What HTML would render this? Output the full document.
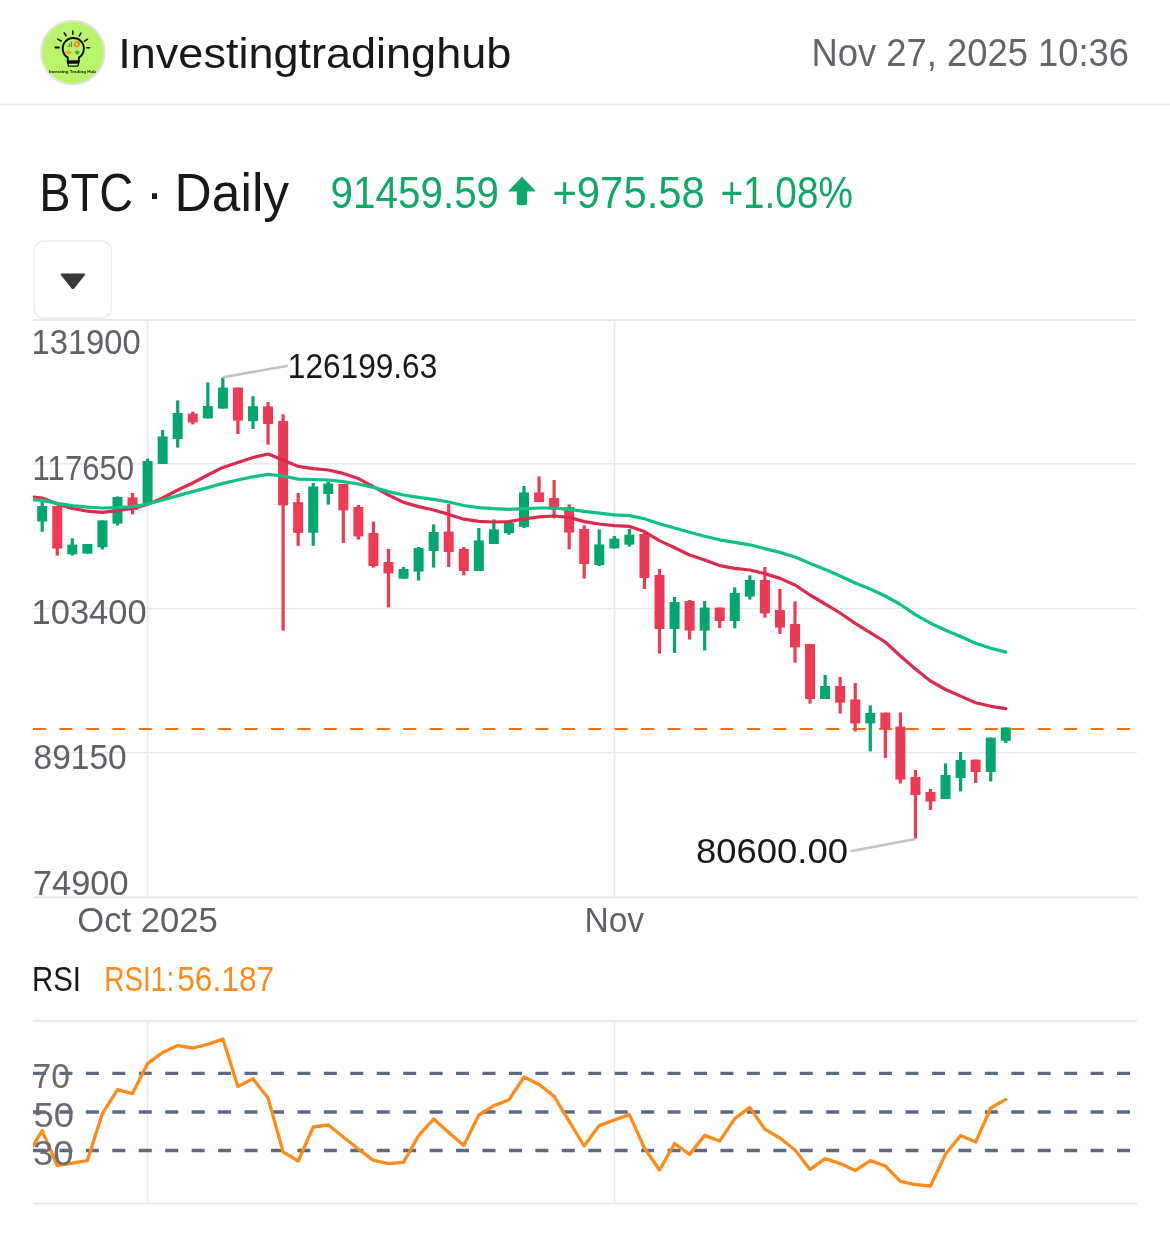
<!DOCTYPE html>
<html lang="en"><head><meta charset="utf-8"><title>BTC Daily - Investingtradinghub</title>
<meta name="viewport" content="width=1170">
<style>
html,body{margin:0;padding:0;background:#fff;}
body{width:1170px;height:1251px;overflow:hidden;position:relative;font-family:"Liberation Sans",sans-serif;}
svg{display:block;position:absolute;left:0;top:0;}
svg text{font-family:"Liberation Sans",sans-serif;}
</style></head><body>
<svg width="1170" height="1251" viewBox="0 0 1170 1251">
<rect x="0" y="0" width="1170" height="1251" fill="#ffffff"/>
<g id="header">
<circle cx="72.8" cy="52.5" r="31.8" fill="#b9f56b" stroke="#e1e3e6" stroke-width="2"/>
<g id="avatar">
<g stroke="#0c0c0c" stroke-width="1.5" stroke-linecap="round" fill="none">
<path d="M72.8 31 V34.3"/>
<path d="M64.2 32.8 L66.1 35.8"/>
<path d="M81 33.1 L79.3 35.9"/>
<path d="M57.6 39.2 L61.3 41"/>
<path d="M87.6 39.2 L84.5 41.2"/>
<path d="M55.6 47.5 H58.8" stroke-width="2.2"/>
<path d="M86.9 47.7 H89.6"/>
<path d="M67.8 60.6 V57.6 A10.6 10.6 0 1 1 78.8 57.6 V60.6" stroke-width="1.9"/>
</g>
<path d="M66.8 60.3 H79.6 V63 H66.8 Z" fill="#0c0c0c"/>
<path d="M67.6 63.2 H78.8 L77.7 66.2 H68.7 Z" fill="#c6f784" stroke="#0c0c0c" stroke-width="1.2" stroke-linejoin="round"/>
<path d="M67.3 47 V45.4 H68.5 V47 Z M69.1 47 V43.6 H70.3 V47 Z M70.9 47 V41.6 H72.1 V47 Z" fill="#4d9a2a"/>
<circle cx="76.9" cy="44.2" r="3.1" fill="#f28a17"/>
<path d="M76.9 42.4 V46" stroke="#fff4dc" stroke-width="1.1"/>
<path d="M64.8 52.2 L68.3 49.9 L72.3 52.2 L68.3 54.8 Z" fill="#f7a21c"/>
<path d="M74.5 52.3 L77 49.9 L79.9 52 L77.6 54.9 Z" fill="#5da136"/>
<text x="48.9" y="72.7" font-size="3.7" font-weight="bold" fill="#0c0c0c" textLength="47" lengthAdjust="spacingAndGlyphs">Investing Trading Hub</text>
</g>
<text x="118.3" y="68.3" font-size="42" fill="#17191c" textLength="393" lengthAdjust="spacingAndGlyphs">Investingtradinghub</text>
<text x="811.5" y="65.6" font-size="38.6" fill="#62656a" textLength="317.5" lengthAdjust="spacingAndGlyphs">Nov 27, 2025 10:36</text>
<rect x="0" y="103.7" width="1170" height="1.5" fill="#ebebed"/>
</g>
<g id="title">
<text y="211.3" font-size="52.8" fill="#17191c"><tspan x="39.2" textLength="94" lengthAdjust="spacingAndGlyphs">BTC</tspan> <tspan x="145.8">·</tspan> <tspan x="174.6" textLength="114.5" lengthAdjust="spacingAndGlyphs">Daily</tspan></text>
<text x="330.6" y="208.2" font-size="44.6" fill="#10a869" textLength="168.5" lengthAdjust="spacingAndGlyphs">91459.59</text>
<path d="M522 176.8 L535.2 190.6 Q535.8 191.6 534.6 191.6 H527.2 V203 Q527.2 205.2 525 205.2 H519 Q516.8 205.2 516.8 203 V191.6 H509.4 Q508.2 191.6 508.8 190.6 Z" fill="#10a869"/>
<text x="552.4" y="208.2" font-size="44.6" fill="#10a869" textLength="152.5" lengthAdjust="spacingAndGlyphs">+975.58</text>
<text x="720.4" y="208.2" font-size="44.6" fill="#10a869" textLength="132.5" lengthAdjust="spacingAndGlyphs">+1.08%</text>
</g>
<g id="dropdown">
<rect x="34" y="241" width="77.5" height="77" rx="10" ry="10" fill="#ffffff" stroke="#eaecee" stroke-width="1.3"/>
<path d="M62.2 273.6 H83.6 Q86 273.6 84.5 275.6 L74.4 288.2 Q72.9 289.9 71.4 288.2 L61.3 275.6 Q59.8 273.6 62.2 273.6 Z" fill="#3a3a3c"/>
</g>
<g id="grid" fill="#e8e9ec">
<rect x="33" y="319.05" width="1104" height="1.9"/>
<rect x="33" y="463.10" width="1104" height="1.4"/>
<rect x="33" y="607.80" width="1104" height="1.4"/>
<rect x="33" y="751.90" width="1104" height="1.4"/>
<rect x="33" y="896.35" width="1104" height="1.9"/>
<rect x="146.75" y="320" width="1.7" height="577.3"/>
<rect x="613.65" y="320" width="1.7" height="577.3"/>
</g>
<g id="ylabels" font-size="34.4" fill="#5e6267">
<text x="31.6" y="354" textLength="109" lengthAdjust="spacingAndGlyphs">131900</text>
<text x="32.6" y="479.9" textLength="101.5" lengthAdjust="spacingAndGlyphs">117650</text>
<text x="31.6" y="624" textLength="115" lengthAdjust="spacingAndGlyphs">103400</text>
<text x="33.6" y="769" textLength="93" lengthAdjust="spacingAndGlyphs">89150</text>
<text x="33" y="895" textLength="95.5" lengthAdjust="spacingAndGlyphs">74900</text>
</g>
<g id="xlabels" font-size="34.4" fill="#5e6267">
<text x="77.3" y="931.7" textLength="140.5" lengthAdjust="spacingAndGlyphs">Oct 2025</text>
<text x="584.4" y="931.8" textLength="59.8" lengthAdjust="spacingAndGlyphs">Nov</text>
</g>
<line x1="33" y1="729" x2="1137" y2="729" stroke="#ff6f00" stroke-width="2" stroke-dasharray="13 13.44"/>
<g id="candles">
<rect x="40.60" y="501.0" width="3.2" height="30.8" fill="#03a66d"/>
<rect x="37.20" y="506.0" width="10" height="15.5" fill="#03a66d"/>
<rect x="55.66" y="506.0" width="3.2" height="49.6" fill="#ef3a56"/>
<rect x="52.26" y="506.0" width="10" height="42.6" fill="#ef3a56"/>
<rect x="70.71" y="538.3" width="3.2" height="17.3" fill="#03a66d"/>
<rect x="67.31" y="544.6" width="10" height="9.6" fill="#03a66d"/>
<rect x="85.77" y="544.0" width="3.2" height="9.6" fill="#03a66d"/>
<rect x="82.37" y="544.0" width="10" height="9.6" fill="#03a66d"/>
<rect x="100.82" y="520.4" width="3.2" height="29.0" fill="#03a66d"/>
<rect x="97.42" y="520.4" width="10" height="26.8" fill="#03a66d"/>
<rect x="115.88" y="496.4" width="3.2" height="29.2" fill="#03a66d"/>
<rect x="112.48" y="497.0" width="10" height="26.6" fill="#03a66d"/>
<rect x="130.94" y="493.0" width="3.2" height="21.4" fill="#ef3a56"/>
<rect x="127.54" y="497.4" width="10" height="12.6" fill="#ef3a56"/>
<rect x="145.99" y="458.6" width="3.2" height="45.0" fill="#03a66d"/>
<rect x="142.59" y="461.0" width="10" height="42.6" fill="#03a66d"/>
<rect x="161.05" y="430.0" width="3.2" height="34.0" fill="#03a66d"/>
<rect x="157.65" y="436.4" width="10" height="27.6" fill="#03a66d"/>
<rect x="176.10" y="400.4" width="3.2" height="47.2" fill="#03a66d"/>
<rect x="172.70" y="413.0" width="10" height="26.0" fill="#03a66d"/>
<rect x="191.16" y="411.6" width="3.2" height="12.8" fill="#ef3a56"/>
<rect x="187.76" y="413.6" width="10" height="8.8" fill="#ef3a56"/>
<rect x="206.22" y="382.4" width="3.2" height="36.0" fill="#03a66d"/>
<rect x="202.82" y="406.0" width="10" height="12.4" fill="#03a66d"/>
<rect x="221.27" y="377.6" width="3.2" height="31.0" fill="#03a66d"/>
<rect x="217.87" y="387.6" width="10" height="21.0" fill="#03a66d"/>
<rect x="236.33" y="387.6" width="3.2" height="46.4" fill="#ef3a56"/>
<rect x="232.93" y="387.6" width="10" height="33.0" fill="#ef3a56"/>
<rect x="251.38" y="396.2" width="3.2" height="32.8" fill="#03a66d"/>
<rect x="247.98" y="406.2" width="10" height="15.0" fill="#03a66d"/>
<rect x="266.44" y="402.0" width="3.2" height="42.6" fill="#ef3a56"/>
<rect x="263.04" y="406.4" width="10" height="17.6" fill="#ef3a56"/>
<rect x="281.50" y="414.4" width="3.2" height="216.2" fill="#ef3a56"/>
<rect x="278.10" y="421.0" width="10" height="84.4" fill="#ef3a56"/>
<rect x="296.55" y="493.0" width="3.2" height="52.8" fill="#ef3a56"/>
<rect x="293.15" y="502.2" width="10" height="30.7" fill="#ef3a56"/>
<rect x="311.61" y="483.0" width="3.2" height="62.8" fill="#03a66d"/>
<rect x="308.21" y="486.5" width="10" height="46.3" fill="#03a66d"/>
<rect x="326.66" y="481.6" width="3.2" height="23.0" fill="#03a66d"/>
<rect x="323.26" y="483.6" width="10" height="10.4" fill="#03a66d"/>
<rect x="341.72" y="484.0" width="3.2" height="59.0" fill="#ef3a56"/>
<rect x="338.32" y="484.0" width="10" height="26.4" fill="#ef3a56"/>
<rect x="356.78" y="505.0" width="3.2" height="34.6" fill="#ef3a56"/>
<rect x="353.38" y="507.0" width="10" height="29.4" fill="#ef3a56"/>
<rect x="371.83" y="521.6" width="3.2" height="46.0" fill="#ef3a56"/>
<rect x="368.43" y="533.0" width="10" height="33.0" fill="#ef3a56"/>
<rect x="386.89" y="549.0" width="3.2" height="58.4" fill="#ef3a56"/>
<rect x="383.49" y="562.0" width="10" height="11.4" fill="#ef3a56"/>
<rect x="401.94" y="567.0" width="3.2" height="11.6" fill="#03a66d"/>
<rect x="398.54" y="569.0" width="10" height="9.6" fill="#03a66d"/>
<rect x="417.00" y="547.0" width="3.2" height="33.6" fill="#03a66d"/>
<rect x="413.60" y="548.0" width="10" height="23.6" fill="#03a66d"/>
<rect x="432.06" y="524.4" width="3.2" height="43.2" fill="#03a66d"/>
<rect x="428.66" y="532.0" width="10" height="19.0" fill="#03a66d"/>
<rect x="447.11" y="504.0" width="3.2" height="63.0" fill="#ef3a56"/>
<rect x="443.71" y="531.6" width="10" height="20.4" fill="#ef3a56"/>
<rect x="462.17" y="547.0" width="3.2" height="28.4" fill="#ef3a56"/>
<rect x="458.77" y="548.8" width="10" height="22.2" fill="#ef3a56"/>
<rect x="477.22" y="528.0" width="3.2" height="43.0" fill="#03a66d"/>
<rect x="473.82" y="540.4" width="10" height="30.6" fill="#03a66d"/>
<rect x="492.28" y="519.4" width="3.2" height="24.6" fill="#03a66d"/>
<rect x="488.88" y="529.4" width="10" height="14.6" fill="#03a66d"/>
<rect x="507.34" y="521.0" width="3.2" height="13.8" fill="#03a66d"/>
<rect x="503.94" y="522.5" width="10" height="10.7" fill="#03a66d"/>
<rect x="522.39" y="486.0" width="3.2" height="42.0" fill="#03a66d"/>
<rect x="518.99" y="492.4" width="10" height="34.6" fill="#03a66d"/>
<rect x="537.45" y="476.4" width="3.2" height="25.6" fill="#ef3a56"/>
<rect x="534.05" y="492.4" width="10" height="9.6" fill="#ef3a56"/>
<rect x="552.50" y="480.0" width="3.2" height="38.4" fill="#ef3a56"/>
<rect x="549.10" y="498.0" width="10" height="11.6" fill="#ef3a56"/>
<rect x="567.56" y="504.4" width="3.2" height="45.0" fill="#ef3a56"/>
<rect x="564.16" y="507.0" width="10" height="25.6" fill="#ef3a56"/>
<rect x="582.62" y="525.4" width="3.2" height="53.2" fill="#ef3a56"/>
<rect x="579.22" y="529.0" width="10" height="35.0" fill="#ef3a56"/>
<rect x="597.67" y="529.4" width="3.2" height="36.6" fill="#03a66d"/>
<rect x="594.27" y="544.4" width="10" height="20.6" fill="#03a66d"/>
<rect x="612.73" y="536.0" width="3.2" height="12.4" fill="#03a66d"/>
<rect x="609.33" y="538.6" width="10" height="9.8" fill="#03a66d"/>
<rect x="627.78" y="529.0" width="3.2" height="17.6" fill="#03a66d"/>
<rect x="624.38" y="534.6" width="10" height="10.0" fill="#03a66d"/>
<rect x="642.84" y="532.0" width="3.2" height="57.0" fill="#ef3a56"/>
<rect x="639.44" y="534.0" width="10" height="44.0" fill="#ef3a56"/>
<rect x="657.90" y="569.0" width="3.2" height="84.6" fill="#ef3a56"/>
<rect x="654.50" y="575.0" width="10" height="54.0" fill="#ef3a56"/>
<rect x="672.95" y="597.0" width="3.2" height="56.0" fill="#03a66d"/>
<rect x="669.55" y="602.0" width="10" height="27.0" fill="#03a66d"/>
<rect x="688.01" y="600.0" width="3.2" height="39.6" fill="#ef3a56"/>
<rect x="684.61" y="601.0" width="10" height="29.6" fill="#ef3a56"/>
<rect x="703.06" y="601.0" width="3.2" height="49.4" fill="#03a66d"/>
<rect x="699.66" y="607.6" width="10" height="23.0" fill="#03a66d"/>
<rect x="718.12" y="607.6" width="3.2" height="20.4" fill="#ef3a56"/>
<rect x="714.72" y="607.6" width="10" height="13.4" fill="#ef3a56"/>
<rect x="733.18" y="587.4" width="3.2" height="41.0" fill="#03a66d"/>
<rect x="729.78" y="593.0" width="10" height="28.0" fill="#03a66d"/>
<rect x="748.23" y="575.4" width="3.2" height="24.2" fill="#03a66d"/>
<rect x="744.83" y="580.0" width="10" height="16.6" fill="#03a66d"/>
<rect x="763.29" y="567.0" width="3.2" height="50.6" fill="#ef3a56"/>
<rect x="759.89" y="580.0" width="10" height="33.4" fill="#ef3a56"/>
<rect x="778.34" y="589.0" width="3.2" height="45.0" fill="#ef3a56"/>
<rect x="774.94" y="610.0" width="10" height="17.6" fill="#ef3a56"/>
<rect x="793.40" y="601.4" width="3.2" height="61.2" fill="#ef3a56"/>
<rect x="790.00" y="624.0" width="10" height="23.4" fill="#ef3a56"/>
<rect x="808.46" y="644.0" width="3.2" height="59.6" fill="#ef3a56"/>
<rect x="805.06" y="644.0" width="10" height="55.0" fill="#ef3a56"/>
<rect x="823.51" y="675.0" width="3.2" height="24.0" fill="#03a66d"/>
<rect x="820.11" y="686.0" width="10" height="13.0" fill="#03a66d"/>
<rect x="838.57" y="677.0" width="3.2" height="36.6" fill="#ef3a56"/>
<rect x="835.17" y="686.0" width="10" height="16.6" fill="#ef3a56"/>
<rect x="853.62" y="683.0" width="3.2" height="48.4" fill="#ef3a56"/>
<rect x="850.22" y="699.4" width="10" height="24.0" fill="#ef3a56"/>
<rect x="868.68" y="705.4" width="3.2" height="46.0" fill="#03a66d"/>
<rect x="865.28" y="713.0" width="10" height="10.4" fill="#03a66d"/>
<rect x="883.74" y="712.6" width="3.2" height="45.4" fill="#ef3a56"/>
<rect x="880.34" y="712.6" width="10" height="16.4" fill="#ef3a56"/>
<rect x="898.79" y="712.4" width="3.2" height="71.0" fill="#ef3a56"/>
<rect x="895.39" y="726.6" width="10" height="53.0" fill="#ef3a56"/>
<rect x="913.85" y="770.0" width="3.2" height="68.6" fill="#ef3a56"/>
<rect x="910.45" y="777.0" width="10" height="18.0" fill="#ef3a56"/>
<rect x="928.90" y="789.0" width="3.2" height="21.0" fill="#ef3a56"/>
<rect x="925.50" y="792.0" width="10" height="9.6" fill="#ef3a56"/>
<rect x="943.96" y="763.4" width="3.2" height="35.6" fill="#03a66d"/>
<rect x="940.56" y="775.0" width="10" height="24.0" fill="#03a66d"/>
<rect x="959.02" y="752.0" width="3.2" height="39.4" fill="#03a66d"/>
<rect x="955.62" y="760.0" width="10" height="18.0" fill="#03a66d"/>
<rect x="974.07" y="759.6" width="3.2" height="23.4" fill="#ef3a56"/>
<rect x="970.67" y="759.6" width="10" height="12.4" fill="#ef3a56"/>
<rect x="989.13" y="737.6" width="3.2" height="43.8" fill="#03a66d"/>
<rect x="985.73" y="737.6" width="10" height="34.4" fill="#03a66d"/>
<rect x="1004.18" y="727.5" width="3.2" height="15.5" fill="#03a66d"/>
<rect x="1000.78" y="727.5" width="10" height="13.3" fill="#03a66d"/>
</g>
<defs><clipPath id="clipMain"><rect x="33" y="319" width="1104" height="579"/></clipPath><clipPath id="clipRsi"><rect x="33" y="1020" width="1104" height="184"/></clipPath></defs>
<g id="ma" clip-path="url(#clipMain)">
<polyline fill="none" stroke="#de2b4d" stroke-width="3.2" stroke-linejoin="round" stroke-linecap="round" points="27.0,496.6 33.0,497.0 42.2,498.0 57.4,504.0 72.2,508.4 87.4,511.2 102.4,512.4 117.4,510.6 132.6,508.4 147.6,504.4 162.6,498.0 177.8,490.0 192.6,483.0 207.8,475.0 222.8,467.4 237.8,462.4 253.0,457.5 268.0,454.0 283.0,460.0 298.0,466.4 313.2,468.6 328.2,470.0 343.2,473.4 358.4,478.6 373.4,486.6 388.4,495.0 403.6,502.4 418.6,506.6 433.6,510.0 448.8,514.4 463.8,519.2 478.8,521.4 493.8,522.0 508.8,521.6 524.0,519.0 539.0,516.8 554.2,516.0 569.2,517.4 584.2,521.6 599.2,524.0 614.2,525.6 629.4,526.4 644.4,531.6 659.4,540.6 674.6,547.8 689.6,555.0 704.6,560.0 719.6,565.6 734.8,568.4 749.8,570.0 764.8,573.6 780.0,578.4 795.0,585.0 810.0,595.0 825.2,604.0 840.2,613.0 855.2,623.4 870.2,632.6 885.2,642.0 900.4,656.0 915.4,669.0 930.4,681.0 945.6,689.5 960.6,696.1 975.6,702.7 990.8,706.3 1005.8,708.6"/>
<polyline fill="none" stroke="#0fc185" stroke-width="3.2" stroke-linejoin="round" stroke-linecap="round" points="27.0,499.8 33.0,500.0 42.2,500.4 57.4,503.4 72.2,505.6 87.4,507.2 102.4,508.0 117.4,507.6 132.6,506.6 147.6,504.0 162.6,500.0 177.8,495.6 192.6,491.6 207.8,487.6 222.8,483.4 237.8,480.0 253.0,476.8 268.0,474.4 283.0,476.0 298.0,479.1 313.2,479.5 328.2,480.0 343.2,481.6 358.4,484.0 373.4,487.4 388.4,491.6 403.6,495.0 418.6,497.4 433.6,499.4 448.8,502.0 463.8,505.5 478.8,507.6 493.8,508.6 508.8,509.4 524.0,508.6 539.0,508.0 554.2,508.0 569.2,509.4 584.2,511.4 599.2,513.2 614.2,514.8 629.4,515.6 644.4,518.8 659.4,523.8 674.6,528.0 689.6,532.2 704.6,536.2 719.6,539.8 734.8,542.4 749.8,544.8 764.8,548.6 780.0,552.4 795.0,557.0 810.0,563.4 825.2,569.4 840.2,576.0 855.2,583.0 870.2,589.0 885.2,596.0 900.4,604.5 915.4,614.6 930.4,623.2 945.6,630.3 960.6,636.6 975.6,643.2 990.8,648.2 1005.8,652.1"/>
</g>
<g id="annot">
<line x1="222.8" y1="377.2" x2="288" y2="365.8" stroke="#c0c4c6" stroke-width="2.6"/>
<text x="287.8" y="378.2" font-size="34.4" fill="#17191c" textLength="149.5" lengthAdjust="spacingAndGlyphs">126199.63</text>
<line x1="915.4" y1="839" x2="850.5" y2="851.2" stroke="#c0c4c6" stroke-width="2.6"/>
<text x="696" y="862.9" font-size="34.4" fill="#17191c" textLength="152" lengthAdjust="spacingAndGlyphs">80600.00</text>
</g>
<g id="rsi">
<text x="32" y="990.6" font-size="34.4" fill="#17191c" textLength="49" lengthAdjust="spacingAndGlyphs">RSI</text>
<text y="990.6" font-size="34.4" fill="#fb8b1e"><tspan x="104.2" textLength="70" lengthAdjust="spacingAndGlyphs">RSI1:</tspan><tspan x="177.2" textLength="97" lengthAdjust="spacingAndGlyphs">56.187</tspan></text>
<g fill="#e8e9ec">
<rect x="33" y="1019.85" width="1104" height="1.9"/>
<rect x="33" y="1202.65" width="1104" height="1.9"/>
<rect x="146.85" y="1020.8" width="1.5" height="182.8"/>
<rect x="613.75" y="1020.8" width="1.5" height="182.8"/>
</g>
<line x1="33" y1="1073.4" x2="1137" y2="1073.4" stroke="#5d6a80" stroke-width="3.3" stroke-dasharray="13 13.44"/>
<line x1="33" y1="1112.0" x2="1137" y2="1112.0" stroke="#5d6a80" stroke-width="3.3" stroke-dasharray="13 13.44"/>
<line x1="33" y1="1150.5" x2="1137" y2="1150.5" stroke="#5d6a80" stroke-width="3.3" stroke-dasharray="13 13.44"/>
<g clip-path="url(#clipRsi)">
<polyline fill="none" stroke="#fd8c1c" stroke-width="3.3" stroke-linejoin="round" stroke-linecap="round" points="27.1,1155.2 42.2,1130.6 57.3,1165.6 72.3,1163.2 87.4,1160.6 102.4,1113.6 117.5,1089.6 132.5,1093.6 147.6,1063.6 162.6,1052.6 177.7,1045.6 192.8,1048.0 207.8,1044.4 222.9,1039.0 237.9,1086.6 253.0,1078.8 268.0,1098.0 283.1,1152.0 298.2,1161.0 313.2,1127.0 328.3,1125.0 343.3,1137.0 358.4,1149.0 373.4,1160.4 388.5,1163.6 403.5,1162.4 418.6,1135.6 433.7,1119.0 448.7,1132.4 463.8,1145.4 478.8,1115.0 493.9,1105.6 508.9,1100.0 524.0,1077.0 539.0,1084.4 554.1,1096.4 569.2,1121.4 584.2,1146.0 599.3,1125.6 614.3,1120.0 629.4,1114.6 644.4,1148.0 659.5,1170.0 674.6,1143.6 689.6,1154.4 704.7,1135.4 719.7,1141.0 734.8,1118.6 749.8,1107.4 764.9,1129.4 779.9,1138.0 795.0,1150.0 810.1,1169.4 825.1,1158.6 840.2,1163.6 855.2,1170.6 870.3,1160.6 885.3,1166.0 900.4,1181.4 915.4,1184.6 930.5,1186.0 945.6,1154.0 960.6,1135.6 975.7,1142.0 990.7,1108.0 1005.8,1099.4"/>
</g>
<g font-size="35.2" fill="#686b70">
<text x="32.6" y="1088" textLength="37.5" lengthAdjust="spacingAndGlyphs">70</text>
<text x="33.4" y="1126.8" textLength="40.5" lengthAdjust="spacingAndGlyphs">50</text>
<text x="33" y="1165.4" textLength="40.5" lengthAdjust="spacingAndGlyphs">30</text>
</g>
</g>
</svg>
</body></html>
